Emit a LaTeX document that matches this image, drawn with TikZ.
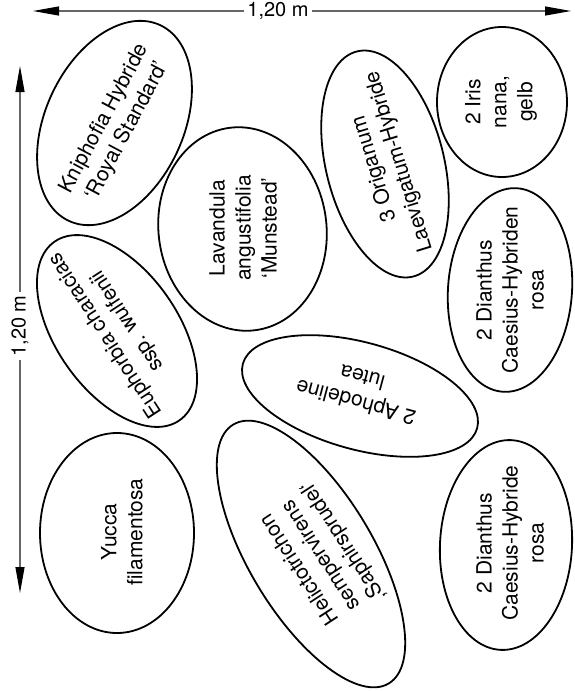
\documentclass[tikz,border=0pt]{standalone}
\usepackage{fontspec}
\setmainfont{TeX Gyre Heros}
\usetikzlibrary{shapes.geometric,arrows.meta}
\begin{document}
\begin{tikzpicture}[x=1pt,y=-1pt,
  bed/.style={draw, ellipse, line width=1.8pt, inner sep=0pt, outer sep=0pt},
  plant/.style={align=center, inner sep=0pt, font=\fontsize{21}{26}\selectfont},
  dimlabel/.style={inner sep=3pt, font=\fontsize{20}{24}\selectfont},
  dimline/.style={draw=black!60, line width=1.1pt, -{Triangle[length=26pt,width=9pt,color=black]}}
]
\useasboundingbox (0,0) rectangle (574,691);

% dimension arrows
\node[dimlabel] (dimtop) at (278,11) {1,20 m};
\coordinate (tl) at (33,11);
\coordinate (tr) at (571,11);
\draw[dimline] (dimtop.west) -- (tl);
\draw[dimline] (dimtop.east) -- (tr);

\node[dimlabel, rotate=90] (dimleft) at (20,326) {1,20 m};
\coordinate (lt) at (20,66);
\coordinate (lb) at (20,593);
\draw[dimline] (dimleft.east) -- (lt);
\draw[dimline] (dimleft.west) -- (lb);

% beds (ellipses)
\node[bed, minimum width=216pt, minimum height=138pt, rotate=65] (eKni) at (114.5,123) {};
\node[bed, minimum width=204pt, minimum height=168pt, rotate=97] (eLav) at (242.5,229) {};
\node[bed, minimum width=232pt, minimum height=118pt, rotate=104] (eOri) at (385,164) {};
\node[bed, minimum width=150pt, minimum height=130pt, rotate=90] (eIri) at (502,102) {};
\node[bed, minimum width=204pt, minimum height=124pt, rotate=86] (eDi1) at (510,290) {};
\node[bed, minimum width=218pt, minimum height=122pt, rotate=125] (eEup) at (117,331) {};
\node[bed, minimum width=243pt, minimum height=107pt, rotate=164.6] (eAph) at (360,396) {};
\node[bed, minimum width=200pt, minimum height=154pt, rotate=90] (eYuc) at (117,533) {};
\node[bed, minimum width=302pt, minimum height=124pt, rotate=121] (eHel) at (311,554) {};
\node[bed, minimum width=210pt, minimum height=132pt, rotate=87] (eDi2) at (506,545) {};

% labels
\node[plant, rotate=62] (tKni) at (116,125) {Kniphofia Hybride\\‘Royal Standard’};
\node[plant, rotate=90] (tLav) at (243,228) {Lavandula\\angustifolia\\‘Munstead’};
\node[plant, rotate=107] (tOri) at (387,165) {3 Origanum\\Laevigatum-Hybride};
\node[plant, rotate=90] (tIri) at (501,102) {2 Iris\\nana,\\gelb};
\node[plant, rotate=90] (tDi1) at (510,290) {2 Dianthus\\Caesius-Hybriden\\rosa};
\node[plant, rotate=123] (tEup) at (117,328) {Euphorbia characias\\ssp. wulfenii};
\node[plant, rotate=165] (tAph) at (359,390) {2 Aphodeline\\lutea};
\node[plant, rotate=90] (tYuc) at (122,532) {Yucca\\filamentosa};
\node[plant, rotate=123] (tHel) at (322,555) {Helictotrichon\\sempervirens\\‚Saphirsprudel‘};
\node[plant, rotate=90] (tDi2) at (510,543) {2 Dianthus\\Caesius-Hybride\\rosa};
\end{tikzpicture}
\end{document}
